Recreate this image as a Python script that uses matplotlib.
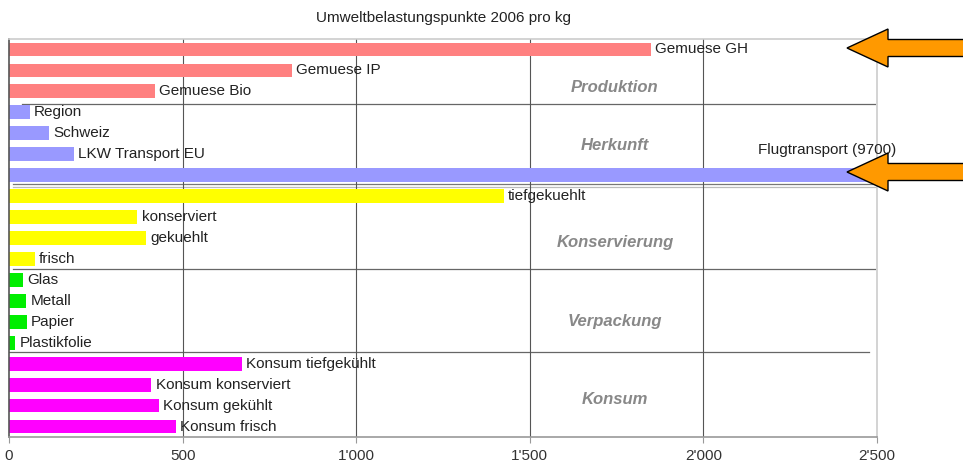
import matplotlib
matplotlib.use("Agg")
import matplotlib.pyplot as plt
from matplotlib.patches import Polygon
from matplotlib.ticker import FuncFormatter

plt.rcParams['font.family'] = ['Liberation Sans', 'DejaVu Sans']

# -----------------------------------------------------------
# Data
# -----------------------------------------------------------
labels = ["Gemuese GH", "Gemuese IP", "Gemuese Bio",
          "Region", "Schweiz", "LKW Transport EU", "Flugtransport (9700)",
          "tiefgekuehlt", "konserviert", "gekuehlt", "frisch",
          "Glas", "Metall", "Papier", "Plastikfolie",
          "Konsum tiefgekühlt", "Konsum konserviert", "Konsum gekühlt", "Konsum frisch"]
values = [1850, 815, 420,
          60, 115, 188, 9700,
          1425, 370, 395, 75,
          40, 50, 52, 18,
          672, 410, 432, 480]
groups = ["Produktion", "Herkunft", "Konservierung", "Verpackung", "Konsum"]
group_sizes = [3, 4, 4, 4, 4]
group_colors = ["#ff8080", "#9999ff", "#ffff00", "#00ee00", "#ff00ff"]

colors = []
for c, n in zip(group_colors, group_sizes):
    colors += [c] * n

# -----------------------------------------------------------
# Plot
# -----------------------------------------------------------
fig = plt.figure(figsize=(9.63, 4.70), dpi=100)
ax = fig.add_axes([9 / 963, 1 - 437 / 470, 868 / 963, 398 / 470])

ypos = list(range(len(values)))
ax.barh(ypos, values, height=0.66, color=colors, zorder=2)

ax.set_xlim(0, 2500)
ax.set_ylim(len(values) - 0.5, -0.5)

for v, y, name in zip(values, ypos, labels):
    if v > 2500:
        continue
    ax.annotate(name, (v, y), xytext=(3, 0), textcoords="offset points",
                va="center", ha="left", fontsize=11, color="#222222", zorder=3)

# the clipped bar gets its label above the bar
fl = labels.index("Flugtransport (9700)")
ax.text(2157, fl - 1.22, labels[fl], fontsize=11, color="#222222",
        va="center", ha="left", clip_on=False, zorder=3)

# group names
group_y = [1.8, 4.57, 9.2, 13.0, 16.7]
for g, gy in zip(groups, group_y):
    ax.text(1745, gy, g, fontsize=12, fontweight="bold", style="italic",
            color="#888888", ha="center", va="center", zorder=3)

# group separators
ax.axhline(2.6, xmin=0.015, xmax=0.998, color="#666666", lw=0.9, zorder=1)
ax.axhline(6.44, xmin=0.005, xmax=1.0, color="#777777", lw=0.9, zorder=1)
ax.axhline(6.56, xmin=0.005, xmax=1.0, color="#bbbbbb", lw=0.9, zorder=1)
ax.axhline(10.48, xmin=0.005, xmax=0.998, color="#666666", lw=0.9, zorder=1)
ax.axhline(14.43, xmin=0.0, xmax=0.991, color="#666666", lw=0.9, zorder=1)

# grid
ax.set_xticks([0, 500, 1000, 1500, 2000, 2500])
ax.xaxis.set_major_formatter(FuncFormatter(lambda x, p: f"{int(x):,}".replace(",", "'")))
for gx in [500, 1000, 1500, 2000]:
    ax.axvline(gx, color="#555555", lw=0.8, zorder=1)
ax.set_yticks([])
ax.tick_params(axis="x", length=4, color="#999999", labelsize=11, labelcolor="#333333", pad=5)

ax.spines["top"].set_color("#cccccc")
ax.spines["right"].set_color("#cccccc")
ax.spines["left"].set_color("#555555")
ax.spines["bottom"].set_color("#999999")
for s in ax.spines.values():
    s.set_linewidth(1.2)

fig.text(443 / 963, 1 - 18 / 470, "Umweltbelastungspunkte 2006 pro kg",
         ha="center", va="center", fontsize=11, color="#222222")

# orange arrows pointing at the big values
def arrow(y_px):
    pts = [(847, y_px), (888, y_px - 19), (888, y_px - 8.5), (975, y_px - 8.5),
           (975, y_px + 8.5), (888, y_px + 8.5), (888, y_px + 19)]
    pts = [(x / 963, 1 - y / 470) for x, y in pts]
    fig.patches.append(Polygon(pts, closed=True, transform=fig.transFigure,
                               facecolor="#ff9900", edgecolor="black", lw=1.0))

arrow(48)
arrow(172)

fig.savefig("out.png", dpi=100)
